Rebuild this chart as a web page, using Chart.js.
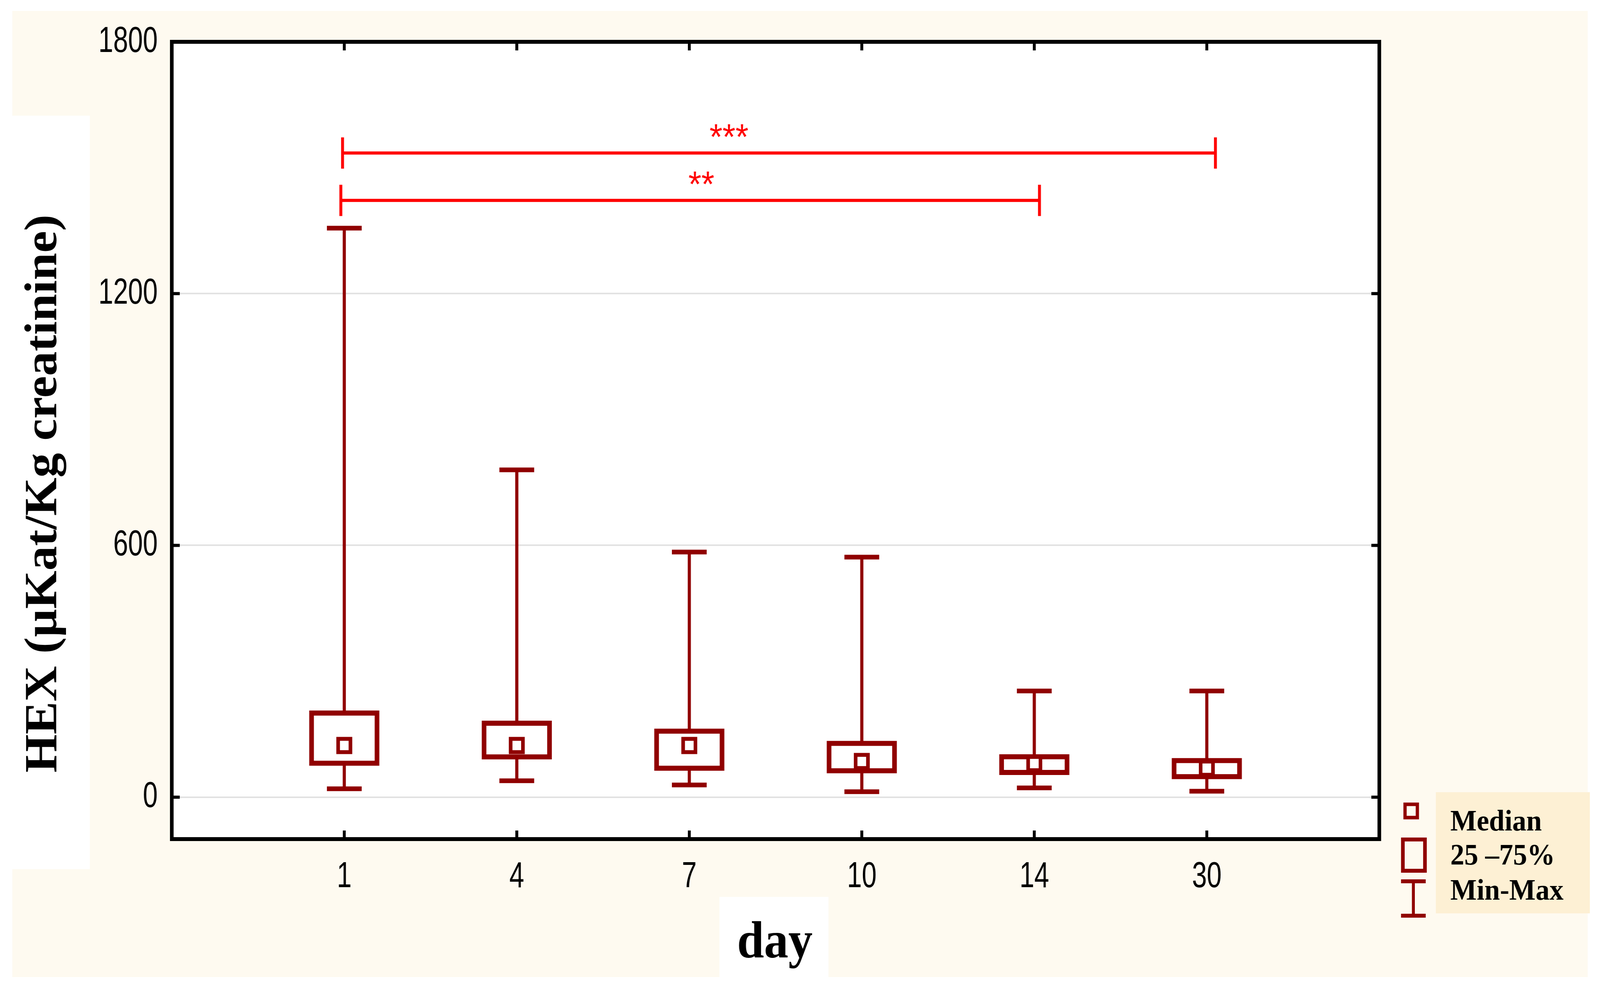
<!DOCTYPE html>
<html lang="en">
<head>
  <meta charset="UTF-8">
  <title>HEX by day</title>
  <style>
    html, body { margin: 0; padding: 0; background: #fff; overflow: hidden; }
    canvas { display: block; width: 100vw !important; height: 100vh !important; }
  </style>
</head>
<body>
  <canvas id="boxChart" width="4415" height="2528"></canvas>

  <script src="https://cdn.jsdelivr.net/npm/chart.js"></script>
  <script>
    // values
    const days = ['1', '4', '7', '10', '14', '30'];
    const minVals = [20, 39, 29, 13, 22, 14];
    const q1Vals = [75, 90, 63, 57, 53, 43];
    const medianVals = [123, 123, 123, 85, 80, 69];
    const q3Vals = [206, 182, 163, 134, 102, 93];
    const maxVals = [1356, 780, 584, 572, 253, 253];
    const yTicks = [0, 600, 1200, 1800];

    // significance brackets, ends given on the x axis (day 1 = 1, day 30 = 6)
    const sigFromX = [0.99, 0.98];
    const sigToX = [6.05, 5.03];
    const sigLevel = [1535, 1422];
    const sigText = ['***', '**'];
    const sigTextX = [3.23, 3.07];

    const legendLabels = ['Median', '25 \u201375%', 'Min-Max'];

    const DARK = '#900000';
    const SERIF = "'Liberation Serif', 'Times New Roman', serif";
    const SANS = "'Liberation Sans', Arial, sans-serif";

    const xPos = days.map((d, i) => i + 1);

    // narrow tick text: squeeze the sans face horizontally
    function narrowText(ctx, text, x, y, align) {
      ctx.save();
      ctx.translate(x, y);
      ctx.scale(0.79, 1);
      ctx.textAlign = align;
      ctx.fillText(text, 0, 0);
      ctx.restore();
    }

    const decor = {
      id: 'decor',
      beforeDraw(chart) {
        const ctx = chart.ctx;
        const a = chart.chartArea;
        ctx.save();
        ctx.fillStyle = '#ffffff';
        ctx.fillRect(0, 0, chart.width, chart.height);
        ctx.fillStyle = '#fefaf0';
        ctx.fillRect(34, 28, 4347, 2472);
        ctx.fillStyle = '#ffffff';
        ctx.fillRect(0, 296, 248, 1928);
        ctx.fillRect(1985, 2295, 301, 233);
        ctx.fillStyle = '#fdf0d4';
        ctx.fillRect(3962, 2027, 425, 310);
        ctx.fillStyle = '#ffffff';
        ctx.fillRect(a.left, a.top, a.right - a.left, a.bottom - a.top);
        ctx.restore();
      },
      afterDraw(chart) {
        const ctx = chart.ctx;
        const a = chart.chartArea;
        const xs = chart.scales.x;
        const ys = chart.scales.y;
        ctx.save();

        // frame
        ctx.strokeStyle = '#000';
        ctx.lineWidth = 10;
        ctx.strokeRect(a.left, a.top, a.right - a.left, a.bottom - a.top);

        // inward tick marks
        ctx.lineWidth = 8;
        ctx.beginPath();
        yTicks.slice(0, -1).forEach(v => {
          const py = ys.getPixelForValue(v);
          ctx.moveTo(a.left, py); ctx.lineTo(a.left + 22, py);
          ctx.moveTo(a.right, py); ctx.lineTo(a.right - 22, py);
        });
        xPos.forEach(v => {
          const px = xs.getPixelForValue(v);
          ctx.moveTo(px, a.bottom); ctx.lineTo(px, a.bottom - 22);
          ctx.moveTo(px, a.top); ctx.lineTo(px, a.top + 22);
        });
        ctx.stroke();

        // tick labels
        ctx.fillStyle = '#000';
        ctx.font = '93px ' + SANS;
        ctx.textBaseline = 'middle';
        ys.ticks.forEach(t => narrowText(ctx, String(t.value), a.left - 39, ys.getPixelForValue(t.value), 'right'));
        xs.ticks.forEach(t => narrowText(ctx, days[t.value - 1], xs.getPixelForValue(t.value), a.bottom + 97, 'center'));

        // significance brackets
        ctx.strokeStyle = '#ff0000';
        ctx.fillStyle = '#ff0000';
        ctx.lineWidth = 8;
        ctx.font = "92px " + SANS;
        ctx.textAlign = 'center';
        ctx.textBaseline = 'alphabetic';
        sigFromX.forEach((from, i) => {
          const x1 = xs.getPixelForValue(from);
          const x2 = xs.getPixelForValue(sigToX[i]);
          const py = ys.getPixelForValue(sigLevel[i]);
          ctx.beginPath();
          ctx.moveTo(x1, py); ctx.lineTo(x2, py);
          ctx.moveTo(x1, py - 40); ctx.lineTo(x1, py + 40);
          ctx.moveTo(x2, py - 40); ctx.lineTo(x2, py + 40);
          ctx.stroke();
          ctx.fillText(sigText[i], xs.getPixelForValue(sigTextX[i]), py - 10);
        });

        // legend
        ctx.strokeStyle = DARK;
        ctx.lineWidth = 9;
        ctx.strokeRect(3877, 2058, 34, 34);
        ctx.lineWidth = 10;
        ctx.strokeRect(3871, 2148, 61, 80);
        ctx.lineWidth = 8;
        ctx.beginPath();
        ctx.moveTo(3900, 2255); ctx.lineTo(3900, 2343);
        ctx.stroke();
        ctx.lineWidth = 10;
        ctx.beginPath();
        ctx.moveTo(3866, 2255); ctx.lineTo(3934, 2255);
        ctx.moveTo(3866, 2343); ctx.lineTo(3934, 2343);
        ctx.stroke();

        ctx.fillStyle = '#000';
        ctx.font = 'bold 77px ' + SERIF;
        ctx.textAlign = 'left';
        [2125, 2212, 2302].forEach((by, i) => ctx.fillText(legendLabels[i], 4002, by));

        // axis titles
        ctx.font = 'bold 134px ' + SERIF;
        ctx.textAlign = 'center';
        ctx.fillText('day', 2138, 2450);

        ctx.translate(155, 1263);
        ctx.rotate(-Math.PI / 2);
        ctx.font = 'bold 126px ' + SERIF;
        ctx.fillText('HEX (\u00b5Kat/Kg creatinine)', 0, 0);

        ctx.restore();
      }
    };

    const boxChart = new Chart(document.getElementById('boxChart'), {
      type: 'bar',
      data: {
        datasets: [
          {
            label: 'Min-Max',
            type: 'bar',
            data: xPos.map((x, i) => ({ x: x, y: [minVals[i], maxVals[i]] })),
            backgroundColor: DARK,
            borderWidth: 0,
            barThickness: 8,
            grouped: false,
            order: 4
          },
          {
            label: 'caps',
            type: 'line',
            showLine: false,
            data: xPos.map((x, i) => ({ x: x, y: minVals[i] }))
              .concat(xPos.map((x, i) => ({ x: x, y: maxVals[i] }))),
            pointStyle: 'line',
            pointRadius: 48,
            pointBorderWidth: 12,
            pointBorderColor: DARK,
            order: 3
          },
          {
            label: '25 \u201375%',
            type: 'bar',
            data: xPos.map((x, i) => ({ x: x, y: [q1Vals[i], q3Vals[i]] })),
            backgroundColor: '#ffffff',
            borderColor: DARK,
            borderWidth: 13,
            borderSkipped: false,
            barThickness: 193,
            grouped: false,
            order: 2
          },
          {
            label: 'Median',
            type: 'line',
            showLine: false,
            data: xPos.map((x, i) => ({ x: x, y: medianVals[i] })),
            pointStyle: 'rect',
            pointRadius: 24,
            pointBorderWidth: 10,
            pointBorderColor: DARK,
            pointBackgroundColor: '#ffffff',
            order: 1
          }
        ]
      },
      options: {
        responsive: false,
        devicePixelRatio: 1,
        animation: false,
        layout: { padding: { left: 0, right: 609, top: 107, bottom: 0 } },
        plugins: {
          legend: { display: false },
          tooltip: { enabled: false }
        },
        scales: {
          x: {
            type: 'linear',
            min: 0,
            max: 7,
            offset: false,
            afterBuildTicks: scale => { scale.ticks = xPos.map(v => ({ value: v })); },
            afterFit: scale => { scale.height = 381; },
            ticks: { display: false },
            grid: { display: false, drawTicks: false },
            border: { display: false }
          },
          y: {
            min: -100,
            max: 1800,
            afterBuildTicks: scale => { scale.ticks = yTicks.map(v => ({ value: v })); },
            afterFit: scale => { scale.width = 474; },
            ticks: { display: false },
            grid: { color: '#e2e2e2', lineWidth: 4, drawTicks: false },
            border: { display: false }
          }
        }
      },
      plugins: [decor]
    });
  </script>
</body>
</html>
